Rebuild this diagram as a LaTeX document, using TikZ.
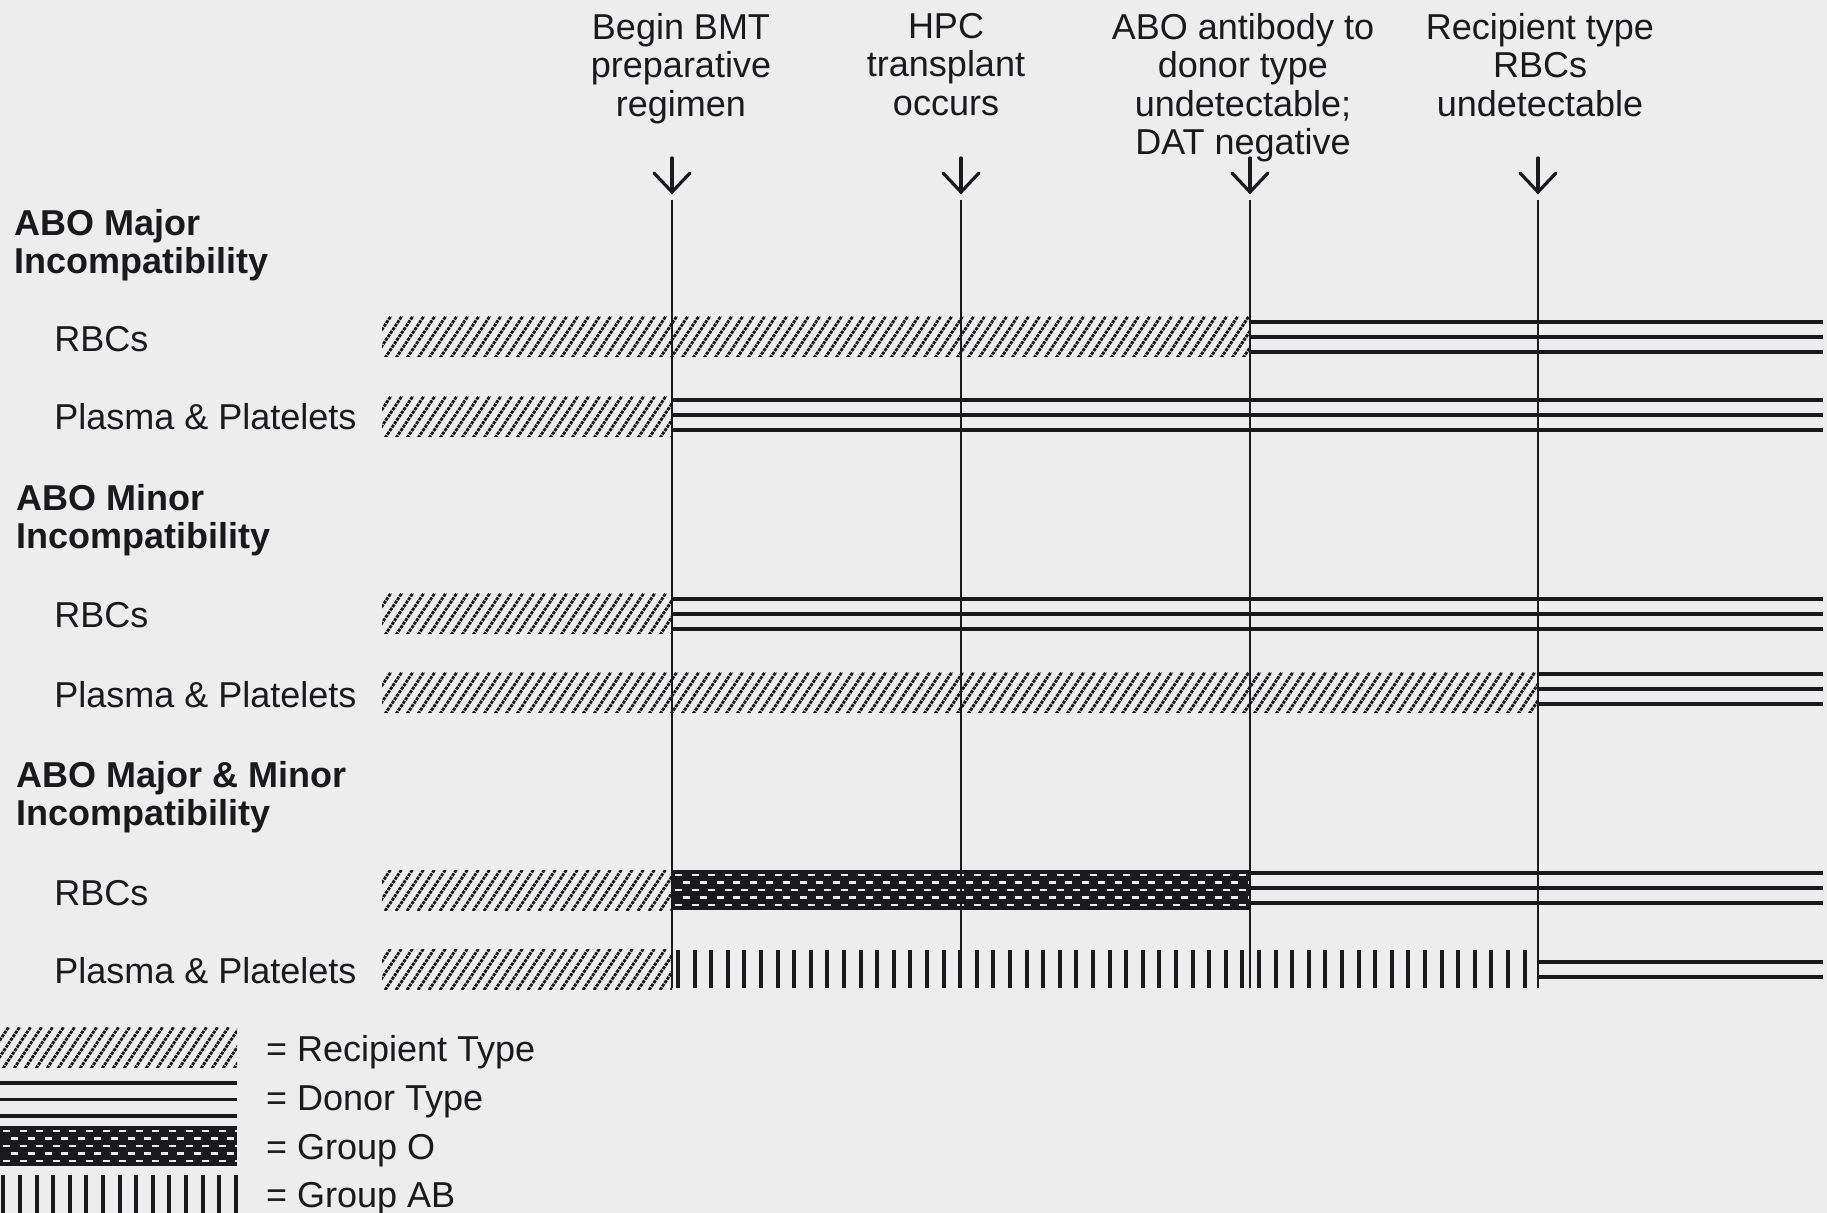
\documentclass[tikz,border=0pt]{standalone}
\usepackage{fontspec}
\setmainfont{Liberation Sans}
\usetikzlibrary{calc}
\definecolor{bg}{RGB}{237,237,237}
\definecolor{ink}{RGB}{25,25,30}
\tikzset{
  txt/.style={font=\fontsize{18}{19.25}\selectfont, inner sep=0pt, text=ink},
  head/.style={font=\fontsize{18}{19.25}\selectfont\bfseries, inner sep=0pt, text=ink, align=left},
  toptxt/.style={txt, align=center, anchor=north},
  hatchln/.style={draw=ink, line width=1.45pt, dash pattern=on 1.6pt off 0.5pt},
  donorln/.style={draw=ink, line width=1.75pt},
  timeln/.style={draw=ink, line width=1pt},
  arr/.style={draw=ink, line width=1.6pt, line cap=round, line join=miter},
}
\newcommand\RecipBar[3]{%
  \begin{scope}
    \clip (#1,#3-20) rectangle (#2,#3+20);
    \pgfmathtruncatemacro\nstr{(#2-#1+40)/11}
    \foreach \i in {0,...,\nstr}
      \draw[hatchln] (#1-30+\i*11,#3+21) -- ++(28,-42);
  \end{scope}}
\newcommand\DonorBar[4]{% x1 x2 yc spacing
  \foreach \r in {-1,0,1}
    \draw[donorln] (#1,#3+\r*#4) -- (#2,#3+\r*#4);}
\newcommand\GroupOBar[3]{%
  \fill[ink] (#1,#3-20) rectangle (#2,#3+20);
  \begin{scope}
    \clip (#1,#3-20) rectangle (#2,#3+20);
    \pgfmathtruncatemacro\ndash{(#2-#1)/16.6+1}
    \foreach \r in {-2,...,2}{
      \pgfmathsetmacro\off{mod(\r+2,2)*8.3}
      \foreach \i in {0,...,\ndash}
        \fill[bg] (#1+3+\off+\i*16.6,#3+\r*7.5-1.3) rectangle ++(7,2.6);
    }
  \end{scope}}
\newcommand\ABBar[4]{% first x, limit x, y1, y2
  \pgfmathtruncatemacro\nb{(#2-#1)/16.6}
  \foreach \i in {0,...,\nb}
    \fill[ink] (#1+\i*16.6-2,#3) rectangle ++(4,#4-#3);}
\begin{document}
\begin{tikzpicture}[x=0.5pt,y=-0.5pt]
\fill[bg] (0,0) rectangle (1827,1213);
\useasboundingbox (0,0) rectangle (1827,1213);

% header texts
\node[toptxt] (h1) at (681,12.8) {Begin BMT\\preparative\\regimen};
\node[toptxt] (h2) at (946,12.8) {HPC\\transplant\\occurs};
\node[toptxt] (h3) at (1243,12.8) {ABO antibody to\\donor type\\undetectable;\\DAT negative};
\node[toptxt] (h4) at (1540,12.8) {Recipient type\\RBCs\\undetectable};

% timeline coordinates
\foreach \n/\x in {1/672,2/961,3/1250,4/1538}{
  \coordinate (as\n) at (\x,158);
  \coordinate (ae\n) at (\x,192);
  \coordinate (tt\n) at (\x,200);
  \coordinate (tb\n) at (\x,988);
}

% left labels
\node[head, anchor=north west] (g1) at (14,208.6) {ABO Major\\Incompatibility};
\node[txt, anchor=base west] (r1) at (54,352) {RBCs};
\node[txt, anchor=base west] (p1) at (54,430) {Plasma \& Platelets};
\node[head, anchor=north west] (g2) at (16,483.6) {ABO Minor\\Incompatibility};
\node[txt, anchor=base west] (r2) at (54,628) {RBCs};
\node[txt, anchor=base west] (p2) at (54,707.5) {Plasma \& Platelets};
\node[head, anchor=north west] (g3) at (16,760.9) {ABO Major \& Minor\\Incompatibility};
\node[txt, anchor=base west] (r3) at (54,905.5) {RBCs};
\node[txt, anchor=base west] (p3) at (54,983.6) {Plasma \& Platelets};

% rows
\RecipBar{382}{1250}{337}
\DonorBar{1250}{1823}{337}{15}
\RecipBar{382}{672}{417}
\DonorBar{672}{1823}{415}{15}
\RecipBar{382}{672}{614}
\DonorBar{672}{1823}{614}{15}
\RecipBar{382}{1538}{693}
\DonorBar{1538}{1823}{689}{15}
\RecipBar{382}{672}{890}
\GroupOBar{672}{1250}{890}
\DonorBar{1250}{1823}{888}{15}
\RecipBar{382}{672}{969}
\ABBar{678}{1526}{950}{988}
\draw[donorln] (1538,962) -- (1823,962);
\draw[donorln] (1538,977) -- (1823,977);

% timeline lines and arrows
\foreach \n in {1,2,3,4}{
  \draw[timeln] (tt\n) -- (tb\n);
  \draw[arr] (as\n) -- (ae\n);
  \draw[arr] ($(ae\n)+(-18,-19)$) -- (ae\n) -- ($(ae\n)+(18,-19)$);
}

% legend
\RecipBar{0}{237}{1047.5}
\DonorBar{0}{237}{1099.5}{16.5}
\GroupOBar{0}{237}{1146}
\ABBar{3.3}{237}{1175}{1213}
\node[txt, anchor=base west] (l1) at (265.7,1061.7) {= Recipient Type};
\node[txt, anchor=base west] (l2) at (265.7,1110.6) {= Donor Type};
\node[txt, anchor=base west] (l3) at (265.7,1159.6) {= Group O};
\node[txt, anchor=base west] (l4) at (265.7,1207.3) {= Group AB};
\end{tikzpicture}
\end{document}
